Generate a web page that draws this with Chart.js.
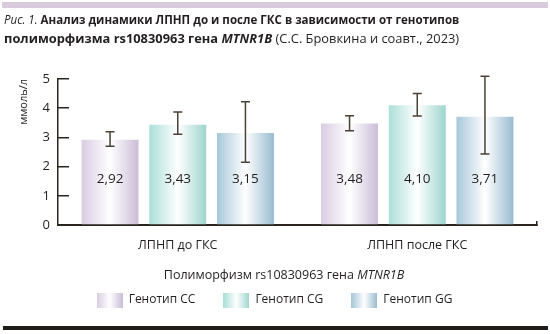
<!DOCTYPE html>
<html><head><meta charset="utf-8">
<script src="https://cdn.jsdelivr.net/npm/chart.js@4/dist/chart.umd.min.js"></script>
<style>
html,body{margin:0;padding:0;background:#fff;}
#wrap{position:relative;width:550px;height:334px;overflow:hidden;font-family:"Open Sans",sans-serif;color:#231f20;}
#band{position:absolute;left:2px;top:2px;width:546px;height:6px;background:#d7cbdc;}
#bottom{position:absolute;left:3px;top:326px;width:545px;height:4px;background:#1f1c19;}
.t{position:absolute;left:4px;white-space:nowrap;font-size:13px;line-height:17px;transform-origin:0 50%;font-weight:700;}
#t1{top:11px} #t2{top:30px}
#xt{position:absolute;top:266px;left:0;width:568px;text-align:center;font-size:12.5px;white-space:nowrap;}
canvas{position:absolute;left:0;top:0;}
</style></head>
<body><div id="wrap">
<canvas id="c" width="550" height="334"></canvas>
<div id="band"></div>
<div class="t" id="t1"><i style="font-weight:400">Рис. 1.</i> Анализ динамики ЛПНП до и после ГКС в зависимости от генотипов</div>
<div class="t" id="t2">полиморфизма rs10830963 гена <i>MTNR1B</i> <span style="font-weight:400">(С.С. Бровкина и соавт., 2023)</span></div>
<div id="xt">Полиморфизм rs10830963 гена <i>MTNR1B</i></div>
<div id="bottom"></div>
</div>
<script>
const categories = ['ЛПНП до ГКС', 'ЛПНП после ГКС'];
const genotypes = ['Генотип CC', 'Генотип CG', 'Генотип GG'];
const meanCC = [2.92, 3.48];
const meanCG = [3.43, 4.10];
const meanGG = [3.15, 3.71];
const lowCC = [2.70, 3.23], highCC = [3.19, 3.74];
const lowCG = [3.11, 3.73], highCG = [3.87, 4.50];
const lowGG = [2.15, 2.43], highGG = [4.22, 5.09];
const yTicks = [0, 1, 2, 3, 4, 5];

const means = [meanCC, meanCG, meanGG];
const lows = [lowCC, lowCG, lowGG];
const highs = [highCC, highCG, highGG];
const edgeL = ['#d9cce2', '#abdfd8', '#a7c7d9'];
const edgeR = ['#cbbdd7', '#9dd5ce', '#99bbd0'];
const dark = '#2a241f';

['t1','t2'].forEach(id => {
  const el = document.getElementById(id);
  el.style.transform = 'scaleX(' + (455 / el.offsetWidth) + ')';
});

function makeGrad(ctx, x0, x1, i) {
  const g = ctx.createLinearGradient(x0, 0, x1, 0);
  g.addColorStop(0, edgeL[i]);
  g.addColorStop(0.5, '#ffffff');
  g.addColorStop(1, edgeR[i]);
  return g;
}
function swatch(i) {
  const c = document.createElement('canvas');
  c.width = 26; c.height = 15;
  const x = c.getContext('2d');
  x.fillStyle = makeGrad(x, 0, 26, i);
  x.fillRect(0, 0, 26, 15);
  return c;
}
const swatches = [0, 1, 2].map(swatch);

const gradPlugin = {
  id: 'grad',
  beforeDatasetsDraw(chart) {
    const ctx = chart.ctx;
    chart.data.datasets.forEach((ds, i) => {
      chart.getDatasetMeta(i).data.forEach(bar => {
        const {x, width} = bar.getProps(['x', 'width'], true);
        bar.options.backgroundColor = makeGrad(ctx, x - width / 2, x + width / 2, i);
      });
    });
  }
};
const errPlugin = {
  id: 'err',
  afterDatasetsDraw(chart) {
    const ctx = chart.ctx, y = chart.scales.y;
    ctx.save();
    ctx.strokeStyle = '#4b4036';
    ctx.lineWidth = 1.5;
    chart.data.datasets.forEach((ds, i) => {
      chart.getDatasetMeta(i).data.forEach((bar, j) => {
        const x = bar.x;
        const yt = y.getPixelForValue(highs[i][j]);
        const yb = y.getPixelForValue(lows[i][j]);
        ctx.beginPath();
        ctx.moveTo(x, yt); ctx.lineTo(x, yb);
        ctx.moveTo(x - 4.5, yt); ctx.lineTo(x + 4.5, yt);
        ctx.moveTo(x - 4.5, yb); ctx.lineTo(x + 4.5, yb);
        ctx.stroke();
      });
    });
    ctx.fillStyle = '#231f20';
    ctx.font = '13.5px "Open Sans"';
    ctx.textAlign = 'center';
    ctx.textBaseline = 'middle';
    const ly = y.getPixelForValue(1.58);
    chart.data.datasets.forEach((ds, i) => {
      chart.getDatasetMeta(i).data.forEach((bar, j) => {
        ctx.fillText(means[i][j].toFixed(2).replace('.', ','), bar.x, ly);
      });
    });
    ctx.restore();
  }
};

new Chart(document.getElementById('c'), {
  type: 'bar',
  data: {
    labels: categories,
    datasets: genotypes.map((g, i) => ({
      label: g,
      data: means[i],
      backgroundColor: (c) => edgeL[c.datasetIndex],
      borderWidth: 0,
      categoryPercentage: 0.848,
      barPercentage: 0.842
    }))
  },
  options: {
    responsive: false,
    animation: false,
    devicePixelRatio: 1,
    layout: { padding: { top: 79, right: 13, left: 12, bottom: 18 } },
    plugins: {
      tooltip: { enabled: false },
      legend: {
        position: 'bottom',
        labels: {
          usePointStyle: true,
          pointStyleWidth: 26,
          padding: 28,
          color: '#231f20',
          font: { family: 'Open Sans', size: 12 },
          generateLabels: (chart) => genotypes.map((g, i) => ({
            text: g, pointStyle: swatches[i], fillStyle: edgeL[i], strokeStyle: 'transparent',
            lineWidth: 0, datasetIndex: i, hidden: false, fontColor: '#231f20'
          }))
        }
      }
    },
    scales: {
      x: {
        afterFit: (s) => { s.height = 41; },
        grid: {
          drawOnChartArea: false, drawTicks: true, tickLength: -4, lineWidth: 1.5,
          color: (c) => (c.index === undefined ? dark : 'rgba(0,0,0,0)')
        },
        border: { display: true, color: dark, width: 2 },
        ticks: { color: '#231f20', padding: 17, font: { family: 'Open Sans', size: 12.5 } }
      },
      y: {
        min: 0, max: 5,
        afterFit: (s) => { s.width = 46; },
        afterBuildTicks: (s) => { s.ticks = yTicks.map(v => ({ value: v })); },
        grid: { drawOnChartArea: false, drawTicks: true, tickLength: -11, color: dark, lineWidth: 1.5 },
        border: { display: true, color: dark, width: 1.5 },
        ticks: { color: '#231f20', padding: 19, font: { family: 'Open Sans', size: 13 } },
        title: {
          display: true, text: 'ммоль/л', align: 'end', color: '#231f20',
          font: { family: 'Open Sans', size: 11 }, padding: { top: 5, bottom: 0 }
        }
      }
    }
  },
  plugins: [gradPlugin, errPlugin]
});
</script>
</body></html>
